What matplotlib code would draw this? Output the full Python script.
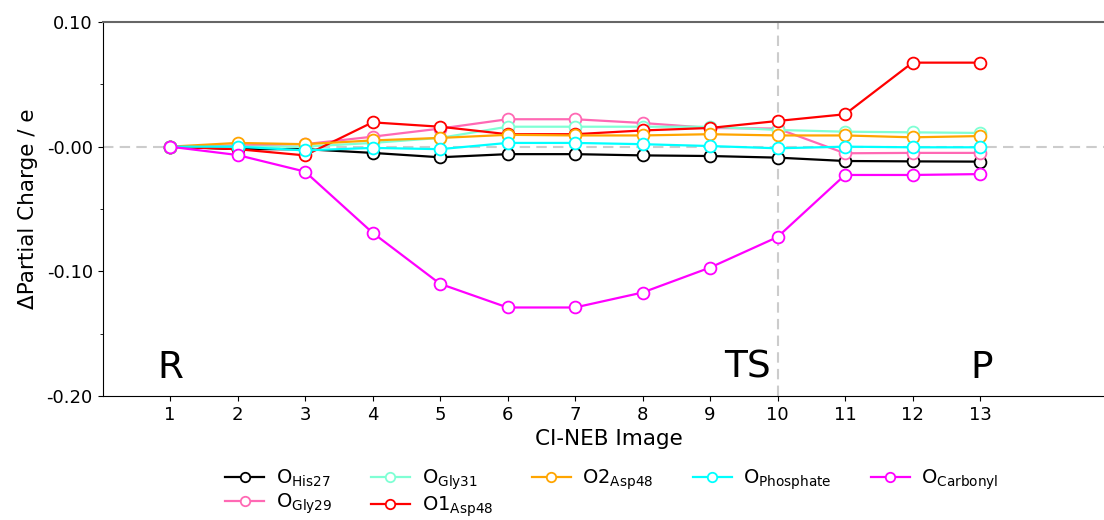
import matplotlib
matplotlib.use("Agg")
import matplotlib.pyplot as plt
from matplotlib.ticker import FixedLocator, FixedFormatter

images = list(range(1, 14))

o_his27 = [0.0, -0.002, -0.002, -0.005, -0.0085, -0.006, -0.006, -0.007, -0.0075, -0.0088, -0.0115, -0.0118, -0.012]
o_gly29 = [0.0, 0.001, 0.002, 0.008, 0.0145, 0.022, 0.022, 0.019, 0.015, 0.0145, -0.0053, -0.005, -0.005]
o_gly31 = [0.0, 0.0, 0.0, 0.003, 0.007, 0.016, 0.016, 0.016, 0.016, 0.0134, 0.012, 0.0115, 0.011]
o1_asp48 = [0.0, -0.002, -0.007, 0.0195, 0.016, 0.010, 0.010, 0.013, 0.015, 0.0206, 0.026, 0.0674, 0.0674]
o2_asp48 = [0.0, 0.003, 0.002, 0.005, 0.007, 0.0095, 0.009, 0.009, 0.010, 0.009, 0.009, 0.0075, 0.0085]
o_phosphate = [0.0, 0.0, -0.003, -0.001, -0.002, 0.003, 0.003, 0.002, 0.0005, -0.0013, 0.0, -0.0005, -0.0005]
o_carbonyl = [0.0, -0.0067, -0.020, -0.069, -0.110, -0.129, -0.129, -0.117, -0.097, -0.0725, -0.0227, -0.0227, -0.022]

series = [
    (o_his27, "black", r"O$_{\mathrm{His27}}$"),
    (o_gly29, "#FF69B4", r"O$_{\mathrm{Gly29}}$"),
    (o_gly31, "#7FFFD4", r"O$_{\mathrm{Gly31}}$"),
    (o1_asp48, "red", r"O1$_{\mathrm{Asp48}}$"),
    (o2_asp48, "#FFA500", r"O2$_{\mathrm{Asp48}}$"),
    (o_phosphate, "#00FFFF", r"O$_{\mathrm{Phosphate}}$"),
    (o_carbonyl, "#FF00FF", r"O$_{\mathrm{Carbonyl}}$"),
]

ytick_vals = [0.10, 0.0, -0.10, -0.20]
ytick_labels = ["0.10", "-0.00", "-0.10", "-0.20"]
state_labels = [("R", 1, "center"), ("TS", 9.9, "right"), ("P", 13.03, "center")]

fig = plt.figure(figsize=(11.04, 5.2), dpi=100)
ax = fig.add_axes([102.5 / 1104, 1 - 396 / 520, (1115 - 102.5) / 1104, (396 - 22) / 520])

ax.axhline(0, color="#cccccc", ls="--", lw=1.5, dashes=(5, 3), zorder=1)
ax.axvline(10, color="#cccccc", ls="--", lw=1.5, dashes=(5, 3), zorder=1)

for vals, col, lab in series:
    ax.plot(images, vals, color=col, lw=1.6, marker="o", ms=8.5, mfc="white",
            mec=col, mew=1.3, label=lab, zorder=3)

for txt, xv, ha in state_labels:
    ax.text(xv, -0.1855, txt, fontsize=27, ha=ha, va="baseline")

ax.set_xlim(0, 15)
ax.set_ylim(-0.20, 0.10)
ax.set_xticks(images)
ax.set_xticklabels([str(i) for i in images], fontsize=13)
ax.yaxis.set_major_locator(FixedLocator(ytick_vals))
ax.yaxis.set_major_formatter(FixedFormatter(ytick_labels))
ax.yaxis.set_minor_locator(FixedLocator([0.05, -0.05, -0.15]))
ax.tick_params(axis="y", labelsize=13)
ax.tick_params(which="minor", length=2.5)

ax.spines["right"].set_visible(False)
ax.spines["top"].set_color("#666666")
ax.spines["top"].set_linewidth(1.5)

ax.set_xlabel("CI-NEB Image", fontsize=15.5, labelpad=4)
ax.set_ylabel("ΔPartial Charge / e", fontsize=15.5, labelpad=6)

fig.legend(loc="upper center", bbox_to_anchor=(612 / 1104, 1 - 460 / 520), ncol=5,
           frameon=False, fontsize=14, borderaxespad=0, handletextpad=0.6,
           labelspacing=0.1, markerscale=0.8)

fig.savefig("out.png", dpi=100)
